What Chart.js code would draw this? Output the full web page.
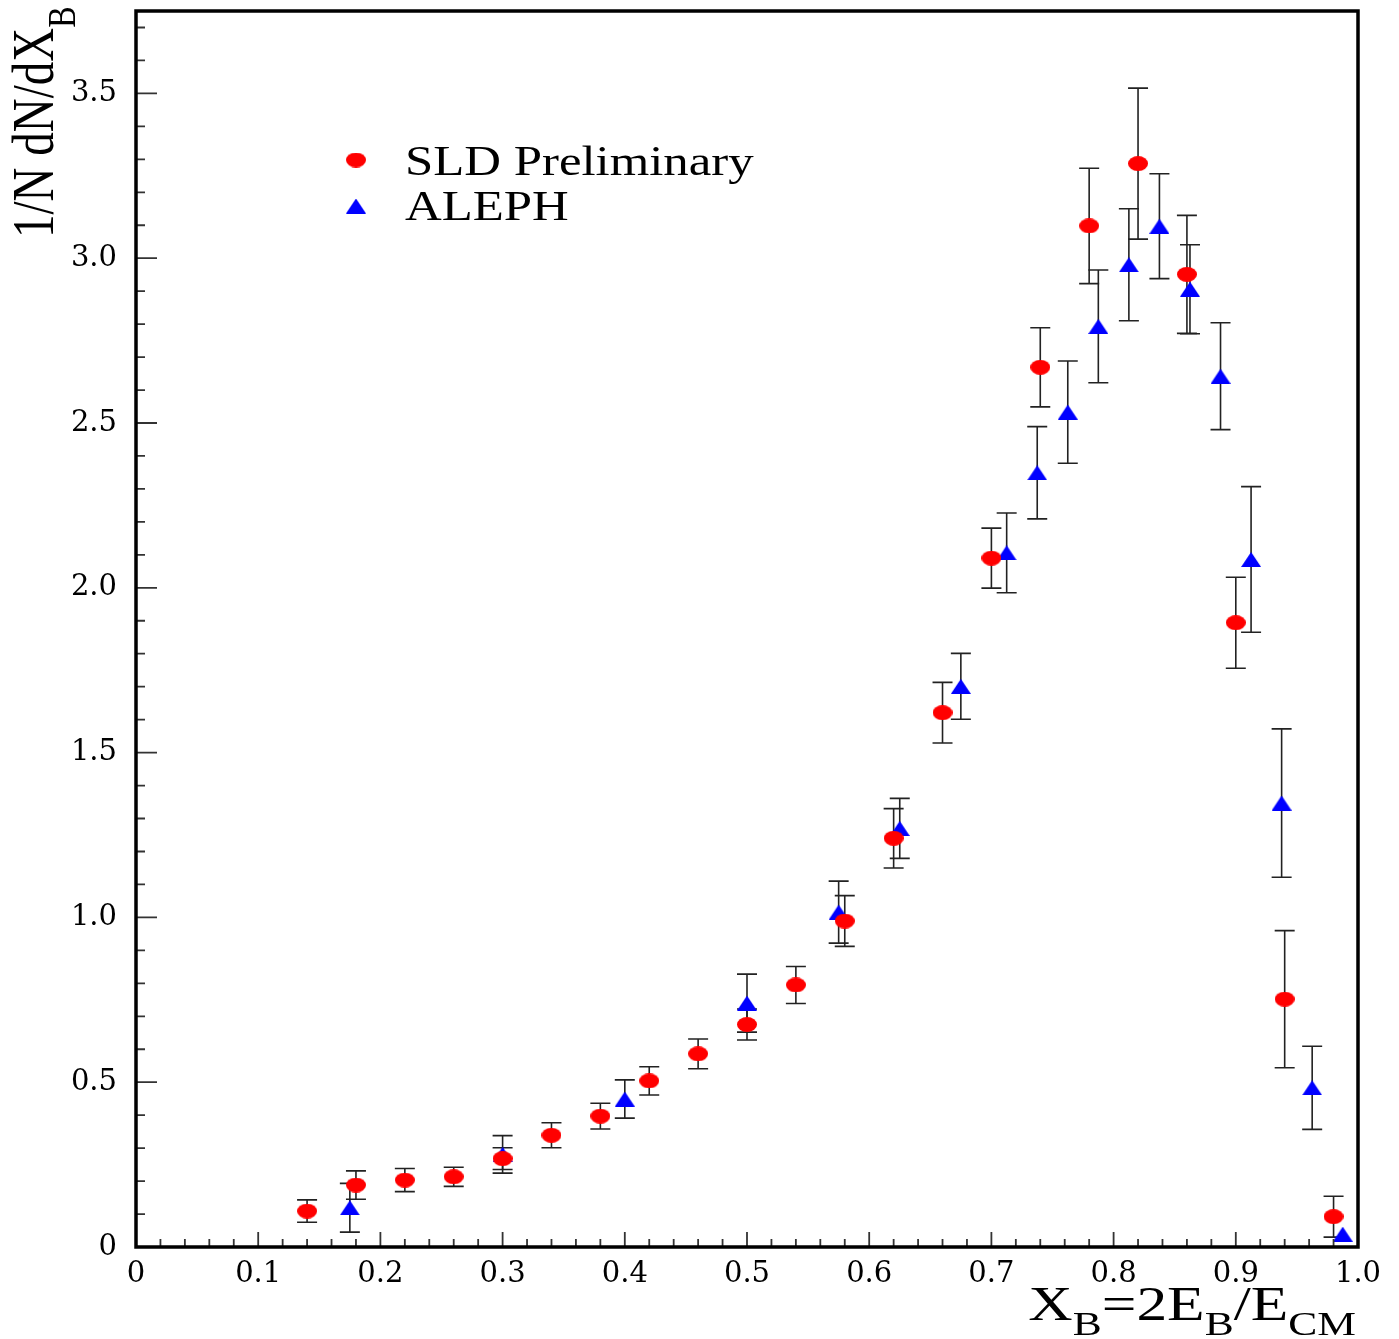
<!DOCTYPE html>
<html>
<head>
<meta charset="utf-8">
<script src="https://cdn.jsdelivr.net/npm/chart.js@4.4.0/dist/chart.umd.min.js"></script>
<style>
  html, body { margin: 0; padding: 0; background: #fff; }
  #wrap { width: 1399px; height: 1339px; position: relative; }
</style>
</head>
<body>
<div id="wrap"><canvas id="xbChart"></canvas></div>
<script>
// SLD preliminary points
const sldX = [0.14, 0.18, 0.22, 0.26, 0.30, 0.34, 0.38, 0.42, 0.46, 0.50, 0.54,
              0.58, 0.62, 0.66, 0.70, 0.74, 0.78, 0.82, 0.86, 0.90, 0.94, 0.98];
const sldY = [0.109, 0.188, 0.203, 0.213, 0.268, 0.339, 0.397, 0.504, 0.586, 0.675, 0.795,
              0.989, 1.240, 1.621, 2.090, 2.669, 3.098, 3.287, 2.951, 1.894, 0.752, 0.092];
const sldErr = [0.034, 0.043, 0.035, 0.029, 0.033, 0.038, 0.039, 0.043, 0.045, 0.047, 0.056,
                0.077, 0.090, 0.092, 0.091, 0.120, 0.175, 0.229, 0.179, 0.138, 0.208, 0.062];

// ALEPH points
const alephX = [0.175, 0.30, 0.40, 0.50, 0.575, 0.625, 0.675, 0.7125, 0.7375, 0.7625,
                0.7875, 0.8125, 0.8375, 0.8625, 0.8875, 0.9125, 0.9375, 0.9625, 0.9875];
const alephY = [0.119, 0.281, 0.449, 0.740, 1.016, 1.270, 1.701, 2.106, 2.349, 2.533,
                2.793, 2.980, 3.097, 2.906, 2.642, 2.086, 1.347, 0.483, 0.039];
const alephErr = [0.074, 0.057, 0.058, 0.088, 0.094, 0.091, 0.100, 0.121, 0.140, 0.155,
                  0.171, 0.170, 0.159, 0.135, 0.162, 0.221, 0.225, 0.126, 0];

const seriesNames = ["SLD Preliminary", "ALEPH"];
const xTickStep = 0.1;
const yTickStep = 0.5;

const SERIF = '"Liberation Serif", "Times New Roman", serif';

// marker images (the original markers are slightly wider than tall)
function makeEllipse(w, h, color) {
    const c = document.createElement("canvas");
    c.width = w; c.height = h;
    const g = c.getContext("2d");
    g.fillStyle = color;
    g.beginPath();
    g.ellipse(w / 2, h / 2, w / 2, h / 2, 0, 0, Math.PI * 2);
    g.fill();
    return c;
}
function makeTriangle(w, h, color) {
    const c = document.createElement("canvas");
    c.width = w; c.height = h;
    const g = c.getContext("2d");
    g.fillStyle = color;
    g.beginPath();
    g.moveTo(w / 2, 0);
    g.lineTo(w, h);
    g.lineTo(0, h);
    g.closePath();
    g.fill();
    return c;
}
const redDot = makeEllipse(20, 15, "#ff0000");
const blueTri = makeTriangle(20, 15, "#0000ff");

function toPoints(xs, ys) {
    return xs.map((x, i) => ({ x: x, y: ys[i] }));
}

// stretched text helper
function wideText(ctx, str, x, y, size, sx) {
    ctx.save();
    ctx.translate(x, y);
    ctx.scale(sx, 1);
    ctx.font = size + "px " + SERIF;
    ctx.fillText(str, 0, 0);
    ctx.restore();
}
function wideWidth(ctx, str, size, sx) {
    ctx.save();
    ctx.font = size + "px " + SERIF;
    const w = ctx.measureText(str).width * sx;
    ctx.restore();
    return w;
}

// ERROR BARS
const errorBars = {
    id: "errorBars",
    beforeDatasetsDraw(chart) {
        const ctx = chart.ctx;
        const xs = chart.scales.x, ys = chart.scales.y;
        const errs = [sldErr, alephErr];
        ctx.save();
        ctx.strokeStyle = "#222";
        ctx.lineWidth = 1.6;
        chart.data.datasets.forEach((ds, di) => {
            ds.data.forEach((p, i) => {
                const e = errs[di][i];
                if (!e) return;
                const px = xs.getPixelForValue(p.x);
                const top = ys.getPixelForValue(p.y + e);
                const bot = ys.getPixelForValue(p.y - e);
                ctx.beginPath();
                ctx.moveTo(px, top); ctx.lineTo(px, bot);
                ctx.moveTo(px - 10, top); ctx.lineTo(px + 10, top);
                ctx.moveTo(px - 10, bot); ctx.lineTo(px + 10, bot);
                ctx.stroke();
            });
        });
        ctx.restore();
    }
};

// FRAME, INNER TICKS, TITLES, LEGEND
const decorations = {
    id: "decorations",
    afterDraw(chart) {
        const ctx = chart.ctx;
        const a = chart.chartArea;
        const xs = chart.scales.x, ys = chart.scales.y;
        ctx.save();

        // ticks inside the frame
        ctx.strokeStyle = "#333";
        ctx.lineWidth = 1.8;
        ctx.beginPath();
        for (let i = 1; i < 50; i++) {
            const px = xs.getPixelForValue(i * 0.02);
            const len = i % 5 === 0 ? 15 : 8;
            ctx.moveTo(px, a.bottom); ctx.lineTo(px, a.bottom - len);
        }
        for (let i = 1; i <= 37; i++) {
            const py = ys.getPixelForValue(i * 0.1);
            const len = i % 5 === 0 ? 21 : 9;
            ctx.moveTo(a.left, py); ctx.lineTo(a.left + len, py);
        }
        ctx.stroke();

        // frame
        ctx.strokeStyle = "#000";
        ctx.lineWidth = 3.5;
        ctx.strokeRect(a.left, a.top, a.right - a.left, a.bottom - a.top);

        ctx.fillStyle = "#000";
        ctx.textBaseline = "alphabetic";

        // x title: X_B=2E_B/E_CM, right aligned
        const parts = [["X", 48, 0], ["B", 34, 15], ["=2E", 48, 0], ["B", 34, 15],
                       ["/E", 48, 0], ["CM", 34, 15]];
        const sx = 1.28;
        let total = 0;
        parts.forEach(p => total += wideWidth(ctx, p[0], p[1], sx));
        let cx = a.right - 2 - total;
        parts.forEach(p => {
            wideText(ctx, p[0], cx, 1320 + p[2], p[1], sx);
            cx += wideWidth(ctx, p[0], p[1], sx);
        });

        // y title: 1/N dN/dX_B, rotated
        ctx.save();
        ctx.translate(53, 238);
        ctx.rotate(-Math.PI / 2);
        ctx.scale(1, 1.28);
        ctx.font = "47px " + SERIF;
        const mainTxt = "1/N dN/dX";
        ctx.fillText(mainTxt, 0, 0);
        const mw = ctx.measureText(mainTxt).width;
        ctx.font = "32px " + SERIF;
        ctx.fillText("B", mw, 17);
        ctx.restore();

        // legend
        ctx.drawImage(redDot, 356 - 10, 160 - 7.5);
        ctx.drawImage(blueTri, 356 - 10, 206 - 7.5);
        wideText(ctx, seriesNames[0], 405, 175, 42, 1.21);
        wideText(ctx, seriesNames[1], 405, 220, 42, 1.21);

        ctx.restore();
    }
};

function fmt(v) {
    return v === 0 ? "0" : v.toFixed(1);
}

// INIT CHART
const chart = new Chart(document.getElementById("xbChart"), {
    type: "scatter",
    data: {
        datasets: [
            {
                label: seriesNames[0],
                data: toPoints(sldX, sldY),
                pointStyle: redDot,
                pointRadius: 10,
                backgroundColor: "#ff0000",
                borderColor: "#ff0000"
            },
            {
                label: seriesNames[1],
                data: toPoints(alephX, alephY),
                pointStyle: blueTri,
                pointRadius: 10,
                backgroundColor: "#0000ff",
                borderColor: "#0000ff"
            }
        ]
    },
    options: {
        responsive: true,
        maintainAspectRatio: false,
        animation: false,
        events: [],
        layout: { padding: { top: 8, right: 41, left: 0, bottom: 0 } },
        plugins: {
            legend: { display: false },
            tooltip: { enabled: false }
        },
        scales: {
            x: {
                type: "linear",
                min: 0,
                max: 1.0,
                grid: { display: false },
                border: { display: false },
                ticks: {
                    stepSize: xTickStep,
                    padding: 2,
                    color: "#000",
                    font: { family: "DejaVu Serif", size: 29 },
                    maxRotation: 0,
                    callback: v => fmt(v)
                },
                afterFit: s => {
                    s.height = 92;
                    s.paddingLeft = 0;
                    s.paddingRight = 0;
                }
            },
            y: {
                type: "linear",
                min: 0,
                max: 3.75,
                grid: { display: false },
                border: { display: false },
                ticks: {
                    stepSize: yTickStep,
                    includeBounds: false,
                    padding: 11,
                    color: "#000",
                    font: { family: "DejaVu Serif", size: 29 },
                    callback: v => fmt(v)
                },
                afterFit: s => {
                    s.width = 136;
                    s.paddingTop = 0;
                    s.paddingBottom = 0;
                }
            }
        }
    },
    plugins: [errorBars, decorations]
});
</script>
</body>
</html>
